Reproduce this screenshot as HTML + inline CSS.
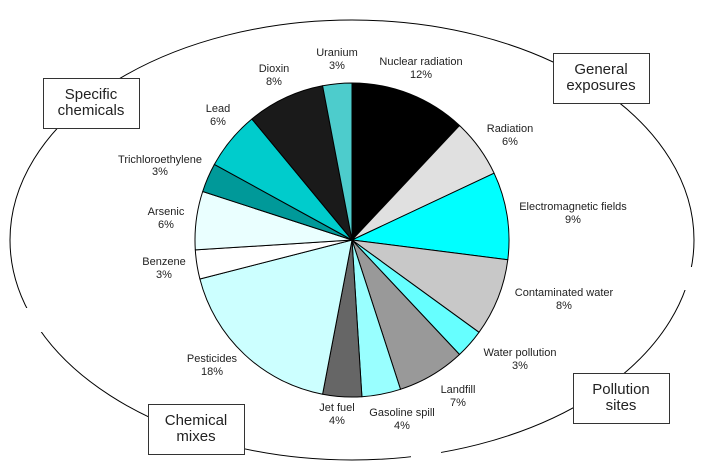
<!DOCTYPE html>
<html><head><meta charset="utf-8"><style>
html,body{margin:0;padding:0;background:#fff;}
svg{display:block;}
text{font-family:"Liberation Sans Narrow","Liberation Sans",sans-serif;fill:#222;}
.l{font-size:11px;}
.b{font-size:15px;}
</style></head><body>
<svg width="702" height="469" viewBox="0 0 702 469" xmlns="http://www.w3.org/2000/svg">
<ellipse cx="352" cy="240" rx="342" ry="220" fill="none" stroke="#000" stroke-width="1"/>
<rect x="18" y="308" width="24" height="24" fill="#fff"/>
<rect x="676" y="267" width="24" height="23" fill="#fff"/>
<rect x="411" y="448" width="30" height="16" fill="#fff"/>
<g stroke="#000" stroke-width="1" stroke-linejoin="round">
<path d="M352,240 L352,83 A157,157 0 0 1 459.5,125.5 Z" fill="#000"/>
<path d="M352,240 L459.5,125.5 A157,157 0 0 1 494.1,173.2 Z" fill="#e0e0e0"/>
<path d="M352,240 L494.1,173.2 A157,157 0 0 1 507.8,259.7 Z" fill="#00ffff"/>
<path d="M352,240 L507.8,259.7 A157,157 0 0 1 479.0,332.3 Z" fill="#c8c8c8"/>
<path d="M352,240 L479.0,332.3 A157,157 0 0 1 459.5,354.5 Z" fill="#66ffff"/>
<path d="M352,240 L459.5,354.5 A157,157 0 0 1 400.5,389.3 Z" fill="#999999"/>
<path d="M352,240 L400.5,389.3 A157,157 0 0 1 361.9,396.7 Z" fill="#99ffff"/>
<path d="M352,240 L361.9,396.7 A157,157 0 0 1 322.6,394.2 Z" fill="#666666"/>
<path d="M352,240 L322.6,394.2 A157,157 0 0 1 199.9,279.0 Z" fill="#ccffff"/>
<path d="M352,240 L199.9,279.0 A157,157 0 0 1 195.3,249.9 Z" fill="#ffffff"/>
<path d="M352,240 L195.3,249.9 A157,157 0 0 1 202.7,191.5 Z" fill="#eaffff"/>
<path d="M352,240 L202.7,191.5 A157,157 0 0 1 214.4,164.4 Z" fill="#009999"/>
<path d="M352,240 L214.4,164.4 A157,157 0 0 1 251.9,119.0 Z" fill="#00cccc"/>
<path d="M352,240 L251.9,119.0 A157,157 0 0 1 322.6,85.8 Z" fill="#1a1a1a"/>
<path d="M352,240 L322.6,85.8 A157,157 0 0 1 352,83 Z" fill="#4dcccc"/>
</g>
<g fill="#fff" stroke="#333" stroke-width="1">
<rect x="43.5" y="78.5" width="96" height="50"/>
<rect x="553.5" y="53.5" width="96" height="50"/>
<rect x="148.5" y="404.5" width="96" height="50"/>
<rect x="573.5" y="373.5" width="96" height="50"/>
</g>
<g class="b" text-anchor="middle" dominant-baseline="middle">
<text x="91" y="95">Specific</text><text x="91" y="111">chemicals</text>
<text x="601" y="70">General</text><text x="601" y="86">exposures</text>
<text x="196" y="421">Chemical</text><text x="196" y="437">mixes</text>
<text x="621" y="390">Pollution</text><text x="621" y="406">sites</text>
</g>
<g class="l" text-anchor="middle" dominant-baseline="middle">
<text x="337" y="53">Uranium</text><text x="337" y="66">3%</text>
<text x="274" y="69">Dioxin</text><text x="274" y="82">8%</text>
<text x="218" y="109">Lead</text><text x="218" y="122">6%</text>
<text x="160" y="160">Trichloroethylene</text><text x="160" y="172">3%</text>
<text x="166" y="212">Arsenic</text><text x="166" y="225">6%</text>
<text x="164" y="262">Benzene</text><text x="164" y="275">3%</text>
<text x="212" y="359">Pesticides</text><text x="212" y="372">18%</text>
<text x="337" y="408">Jet fuel</text><text x="337" y="421">4%</text>
<text x="402" y="413">Gasoline spill</text><text x="402" y="426">4%</text>
<text x="458" y="390">Landfill</text><text x="458" y="403">7%</text>
<text x="520" y="353">Water pollution</text><text x="520" y="366">3%</text>
<text x="564" y="293">Contaminated water</text><text x="564" y="306">8%</text>
<text x="573" y="207">Electromagnetic fields</text><text x="573" y="220">9%</text>
<text x="510" y="129">Radiation</text><text x="510" y="142">6%</text>
<text x="421" y="62">Nuclear radiation</text><text x="421" y="75">12%</text>
</g>
</svg>
</body></html>
